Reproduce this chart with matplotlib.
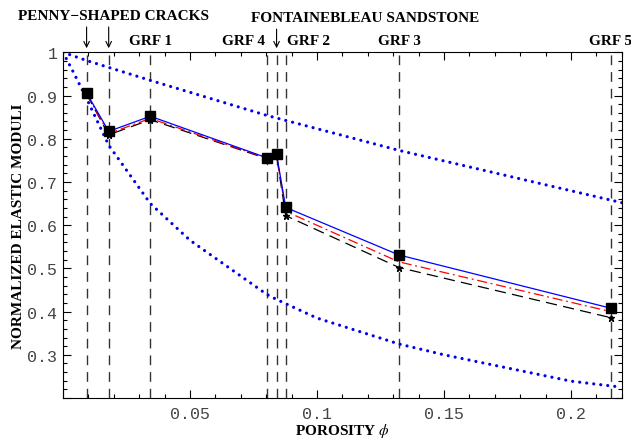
import numpy as np
import matplotlib.pyplot as plt
from matplotlib.ticker import MultipleLocator, FuncFormatter

# porosities of the samples (vertical reference lines)
phi_lines = [0.0093, 0.018, 0.0344, 0.0802, 0.0841, 0.0877, 0.1323, 0.2156]
line_labels = ['', '', 'GRF 1', 'GRF 4', '', 'GRF 2', 'GRF 3', 'GRF 5']

# normalized moduli at those porosities
model_blue = [0.906, 0.817, 0.852, 0.756, 0.764, 0.641, 0.531, 0.408]
model_red = [0.904, 0.812, 0.847, 0.755, 0.762, 0.632, 0.515, 0.400]
model_black = [0.903, 0.809, 0.844, 0.754, 0.761, 0.622, 0.502, 0.386]

# bounds
phi_upper = [0.0, 0.0093, 0.018, 0.0344, 0.0802, 0.1323, 0.22]
upper = [1.0, 0.981, 0.965, 0.935, 0.854, 0.773, 0.652]
phi_lower = [0.0, 0.004, 0.0093, 0.018, 0.0344, 0.05, 0.0802, 0.0841, 0.1, 0.1323, 0.15, 0.2, 0.22]
lower = [1.0, 0.955, 0.893, 0.785, 0.65, 0.565, 0.44, 0.428, 0.385, 0.325, 0.30, 0.239, 0.225]

serif = 'Liberation Serif'
mono = 'Liberation Mono'
plt.rcParams['mathtext.fontset'] = 'stix'

fig = plt.figure(figsize=(6.31, 4.39), dpi=100)
ax = fig.add_axes([0.0998, 0.0911, 0.8859, 0.7875])

for p in phi_lines:
    ax.axvline(p, color='#333333', lw=1.0, ls=(0, (7, 5)), zorder=1)

dots = (0, (0.01, 2.2))
ax.plot(phi_upper, upper, color='#0000ee', lw=2.3, ls=dots, dash_capstyle='round', zorder=2)
ax.plot(phi_lower, lower, color='#0000ee', lw=2.3, ls=dots, dash_capstyle='round', zorder=2)

ax.plot(phi_lines, model_black, color='black', lw=0.9, ls=(0, (9, 5)), marker='*', ms=5, zorder=3)
ax.plot(phi_lines, model_red, color='red', lw=0.9, ls=(0, (8, 3, 1.5, 3)), zorder=4)
ax.plot(phi_lines, model_blue, color='#0000ff', lw=0.9, marker='s', ms=7, mfc='black', mec='black', zorder=5)

ax.set_xlim(0, 0.2201)
ax.set_ylim(0.2, 1.0)
ax.xaxis.set_major_locator(MultipleLocator(0.05))
ax.xaxis.set_minor_locator(MultipleLocator(0.01))
ax.yaxis.set_major_locator(MultipleLocator(0.1))
ax.yaxis.set_minor_locator(MultipleLocator(0.02))


def fmt(v):
    return ('%.2f' % v).rstrip('0').rstrip('.')


ax.xaxis.set_major_formatter(FuncFormatter(lambda v, p: '' if abs(v) < 1e-9 else fmt(v)))
ax.yaxis.set_major_formatter(FuncFormatter(lambda v, p: '' if abs(v - 0.2) < 1e-9 else fmt(v)))
ax.tick_params(which='both', direction='in', top=True, right=True, width=0.8)
ax.tick_params(which='major', length=6)
ax.tick_params(which='minor', length=3)
for lab in ax.get_xticklabels() + ax.get_yticklabels():
    lab.set_fontfamily(mono)
    lab.set_fontsize(12)
    lab.set_color('#444444')
ax.tick_params(axis='x', pad=6)
ax.tick_params(axis='y', pad=4)

ax.set_xlabel('POROSITY $\\phi$', fontfamily=serif, fontweight='bold', fontsize=11, labelpad=0)
ax.set_ylabel('NORMALIZED ELASTIC MODULI', fontfamily=serif, fontweight='bold', fontsize=11, labelpad=2)

# labels above the plot
for p, lab in zip(phi_lines, line_labels):
    if not lab:
        continue
    ha = 'center'
    xoff = 0
    if lab == 'GRF 4':
        ha, xoff = 'right', -0.0008
    elif lab == 'GRF 2':
        ha, xoff = 'left', 0.0006
    ax.text(p + xoff, 1.012, lab, ha=ha, va='bottom', fontfamily=serif, fontweight='bold', fontsize=11)

ax.text(0.0199, 1.07, 'PENNY\u2212SHAPED CRACKS', ha='center', va='bottom', fontfamily=serif,
        fontweight='bold', fontsize=11, clip_on=False)
ax.text(0.1189, 1.065, 'FONTAINEBLEAU SANDSTONE', ha='center', va='bottom', fontfamily=serif,
        fontweight='bold', fontsize=11, clip_on=False)

for p, top in [(phi_lines[0], 1.065), (phi_lines[1], 1.065), (phi_lines[4], 1.06)]:
    ax.annotate('', xy=(p, 1.003), xytext=(p, top), annotation_clip=False,
                arrowprops=dict(arrowstyle='->', lw=0.8, color='black', mutation_scale=10))

fig.savefig('out.png', dpi=100)
